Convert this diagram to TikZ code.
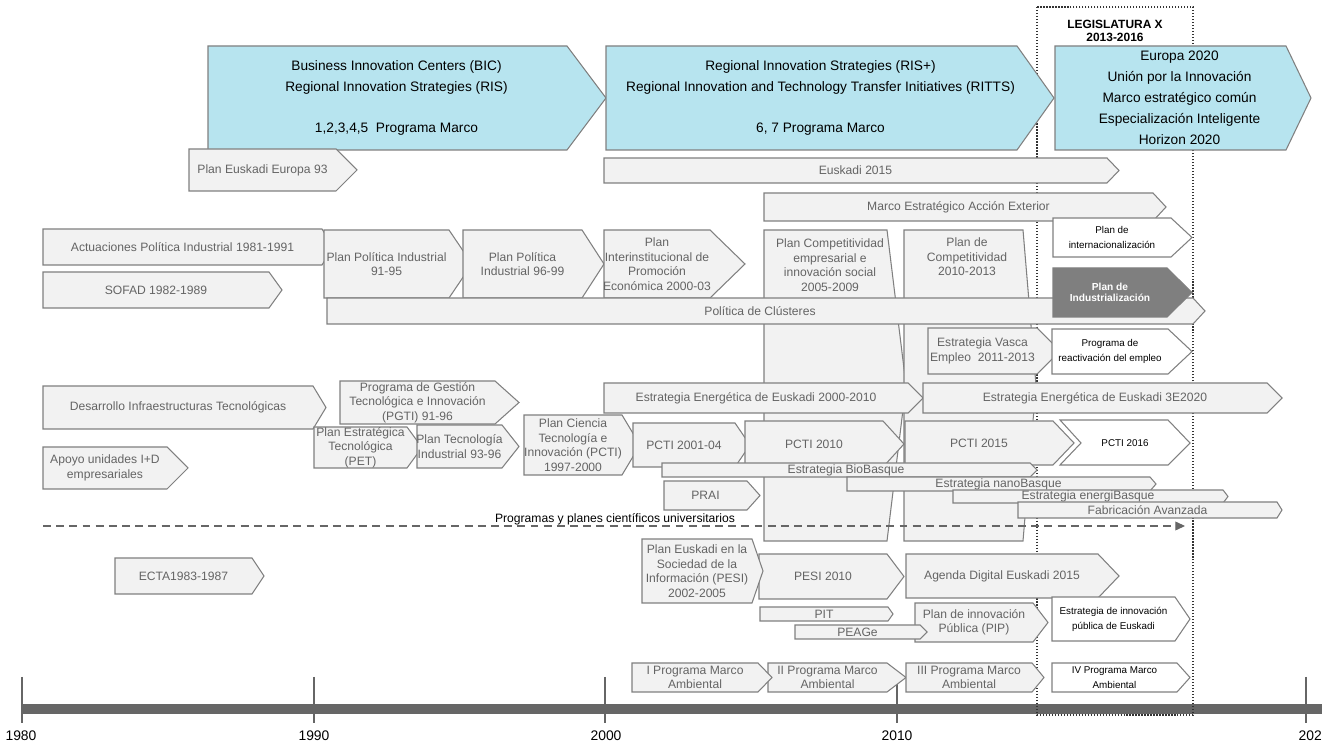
\documentclass[tikz,border=0pt]{standalone}
\usepackage{fontspec}
\setmainfont{Liberation Sans}
\usepackage{xcolor}
\usepackage{tikz}
\usetikzlibrary{arrows.meta}
\definecolor{boxgrey}{HTML}{F2F2F2}
\definecolor{linegrey}{HTML}{808080}
\definecolor{textgrey}{HTML}{646464}
\definecolor{eublue}{HTML}{B7E4EF}
\definecolor{darkgrey}{HTML}{7F7F7F}
\definecolor{axisgrey}{HTML}{666666}
\tikzset{
  gbox/.style={draw=linegrey,fill=boxgrey,line width=0.6pt},
  gbox text/.style={text=textgrey,align=center,inner sep=0pt,font={\fontsize{6.9}{8.3}\selectfont}},
  bbox/.style={draw=linegrey,fill=eublue,line width=0.6pt},
  bbox text/.style={text=black,align=center,inner sep=0pt,xshift=0.18cm,font={\fontsize{7.8}{11.9}\selectfont}},
  wbox/.style={draw=linegrey,fill=white,line width=0.6pt},
  wbox text/.style={text=black,align=center,inner sep=0pt,font={\fontsize{5.6}{8.5}\selectfont}},
  dbox/.style={draw=linegrey,fill=darkgrey,line width=0.6pt},
  dbox text/.style={text=white,align=center,inner sep=0pt,font={\bfseries\fontsize{5.8}{6.6}\selectfont}},
  year/.style={text=black,inner sep=0pt,font={\fontsize{7.9}{9}\selectfont}},
  tick/.style={draw=axisgrey,line width=0.6pt},
}
% chevron: [style]{name}{left}{top}{tip start}{tip}{bottom}{text}
\newcommand{\chev}[8][gbox]{%
  \draw[#1] (#3,#4) -- (#5,#4) -- (#6,{(#4+#7)/2}) -- (#5,#7) -- (#3,#7) -- cycle;
  \node[#1 text] (#2) at ({(#3+#5)/2},{(#4+#7)/2}) {#8};
}
\begin{document}
\begin{tikzpicture}[x=0.02cm,y=-0.02cm]
\path[use as bounding box,fill=white] (0,0) rectangle (1322,742);
% time axis
\draw[axisgrey,line width=6.2pt] (22,709) -- (1330,709);
\foreach \yr/\xx/\lx in {1980/22/21,1990/314/314,2000/605/606,2010/897/897,2020/1306/1314}{
  \draw[tick] (\xx,677) -- (\xx,723);
  \node[year] (y\yr) at (\lx,736) {\yr};
}
% legislatura
\draw[black!80,densely dotted,line width=0.7pt] (1037,7) rectangle (1193,715);
\node[year,align=center,font={\bfseries\fontsize{6.8}{7.4}\selectfont}] (leg) at (1115,31) {LEGISLATURA X\\2013-2016};
% tall plans
\draw[gbox] (764,230) -- (887,230) -- (906,385) -- (887,541) -- (764,541) -- cycle;
\node[gbox text] (comp05) at (830,265) {Plan Competitividad\\empresarial e\\innovación social\\2005-2009};
\draw[gbox] (904,230) -- (1023,230) -- (1036,385) -- (1023,541) -- (904,541) -- cycle;
\node[gbox text] (comp10) at (967,257) {Plan de\\Competitividad\\2010-2013};
% european frame
\chev[bbox]{bic}{208}{46}{567}{606}{150}{Business Innovation Centers (BIC)\\Regional Innovation Strategies (RIS)\\[11.9pt]1,2,3,4,5~~Programa Marco}
\chev[bbox]{ris}{606}{46}{1017}{1054}{150}{Regional Innovation Strategies (RIS+)\\Regional Innovation and Technology Transfer Initiatives (RITTS)\\[11.9pt]6, 7 Programa Marco}
\chev[bbox]{eu}{1055}{46}{1286}{1311}{150}{Europa 2020\\Unión por la Innovación\\Marco estratégico común\\Especialización Inteligente\\Horizon 2020}
% basque plans
\chev{eur93}{189}{149}{336}{357}{191}{Plan Euskadi Europa 93}
\chev{eusk15}{604}{158}{1107}{1119}{183}{Euskadi 2015}
\chev{acex}{764}{193}{1153}{1166}{221}{Marco Estratégico Acción Exterior}
\chev{api}{43}{229}{322}{333}{265}{Actuaciones Política Industrial 1981-1991}
\chev{sofad}{43}{272}{269}{282}{308}{SOFAD 1982-1989}
\chev{ppi91}{324}{230}{449}{472}{298}{Plan Política Industrial\\91-95}
\chev{ppi96}{463}{230}{582}{604}{298}{Plan Política\\Industrial 96-99}
\chev{pipe}{604}{230}{710}{745}{298}{Plan\\Interinstitucional de\\Promoción\\Económica 2000-03}
\chev{clus}{327}{298}{1193}{1205}{324}{Política de Clústeres}
\chev{evempleo}{928}{328}{1037}{1060}{374}{Estrategia Vasca\\Empleo~~2011-2013}
\chev{ee2010}{604}{383}{908}{923}{413}{Estrategia Energética de Euskadi 2000-2010}
\chev{ee2020}{923}{383}{1267}{1282}{413}{Estrategia Energética de Euskadi 3E2020}
\chev{dit}{43}{386}{313}{326}{429}{Desarrollo Infraestructuras Tecnológicas}
\chev{apoyo}{43}{447}{167}{188}{489}{Apoyo unidades I+D\\empresariales}
\chev{pgti}{340}{381}{495}{519}{424}{Programa de Gestión\\Tecnológica e Innovación\\(PGTI) 91-96}
\chev{pet}{314}{427}{407}{422}{468}{Plan Estratégica\\Tecnológica\\(PET)}
\chev{pti}{417}{425}{502}{519}{468}{Plan Tecnología\\Industrial 93-96}
\chev{pcti97}{524}{415}{622}{640}{475}{Plan Ciencia\\Tecnología e\\Innovación (PCTI)\\1997-2000}
\chev{pcti01}{633}{423}{735}{750}{467}{PCTI 2001-04}
\chev{pcti10}{745}{421}{883}{904}{467}{PCTI 2010}
\chev{pcti15}{905}{421}{1053}{1074}{465}{PCTI 2015}
\chev{prai}{664}{481}{747}{760}{510}{PRAI}
\chev{bio}{662}{463}{1030}{1037}{477}{Estrategia BioBasque}
\chev{nano}{847}{477}{1150}{1156}{491}{Estrategia nanoBasque}
\chev{energi}{953}{490}{1223}{1228}{503}{Estrategia energiBasque}
\chev{fab}{1018}{502}{1277}{1282}{518}{Fabricación Avanzada}
\chev{ecta}{115}{558}{252}{264}{594}{ECTA1983-1987}
\chev{pesi10}{759}{554}{887}{904}{599}{PESI 2010}
\chev{pesi}{642}{539}{752}{763}{603}{Plan Euskadi en la\\Sociedad de la\\Información (PESI)\\2002-2005}
\chev{agenda}{906}{554}{1098}{1119}{598}{Agenda Digital Euskadi 2015}
\chev{pit}{760}{607}{888}{893}{621}{PIT}
\chev{pip}{915}{603}{1033}{1048}{642}{Plan de innovación\\Pública (PIP)}
\chev{peage}{795}{625}{920}{927}{639}{PEAGe}
\chev{pma2}{768}{663}{887}{906}{692}{II Programa Marco\\Ambiental}
\chev{pma1}{632}{663}{758}{772}{692}{I Programa Marco\\Ambiental}
\chev{pma3}{906}{663}{1032}{1044}{692}{III Programa Marco\\Ambiental}
% legislatura X
\chev[wbox]{pint}{1053}{218}{1171}{1192}{257}{Plan de\\internacionalización}
\chev[dbox]{pind}{1053}{268}{1167}{1192}{317}{Plan de\\Industrialización}
\chev[wbox]{preact}{1052}{329}{1168}{1192}{374}{Programa de\\reactivación del empleo}
\draw[wbox] (1060,420) -- (1168,420) -- (1190,443) -- (1168,465) -- (1060,465) -- (1081,443) -- cycle;
\node[wbox text] (pcti16) at (1125,443) {PCTI 2016};
\chev[wbox]{eipe}{1052}{597}{1175}{1190}{641}{Estrategia de innovación\\pública de Euskadi}
\chev[wbox]{pma4}{1052}{663}{1177}{1190}{692}{IV Programa Marco\\Ambiental}
% universities
\coordinate (unistart) at (43,526);
\coordinate (uniend) at (1185,526);
\draw[axisgrey,line width=0.6pt,dash pattern=on 4.5pt off 3pt,-{Triangle[length=5.5pt,width=5pt]}] (unistart) -- (uniend);
\node[gbox text,text=black] (uni) at (615,519) {Programas y planes científicos universitarios};
\end{tikzpicture}
\end{document}
